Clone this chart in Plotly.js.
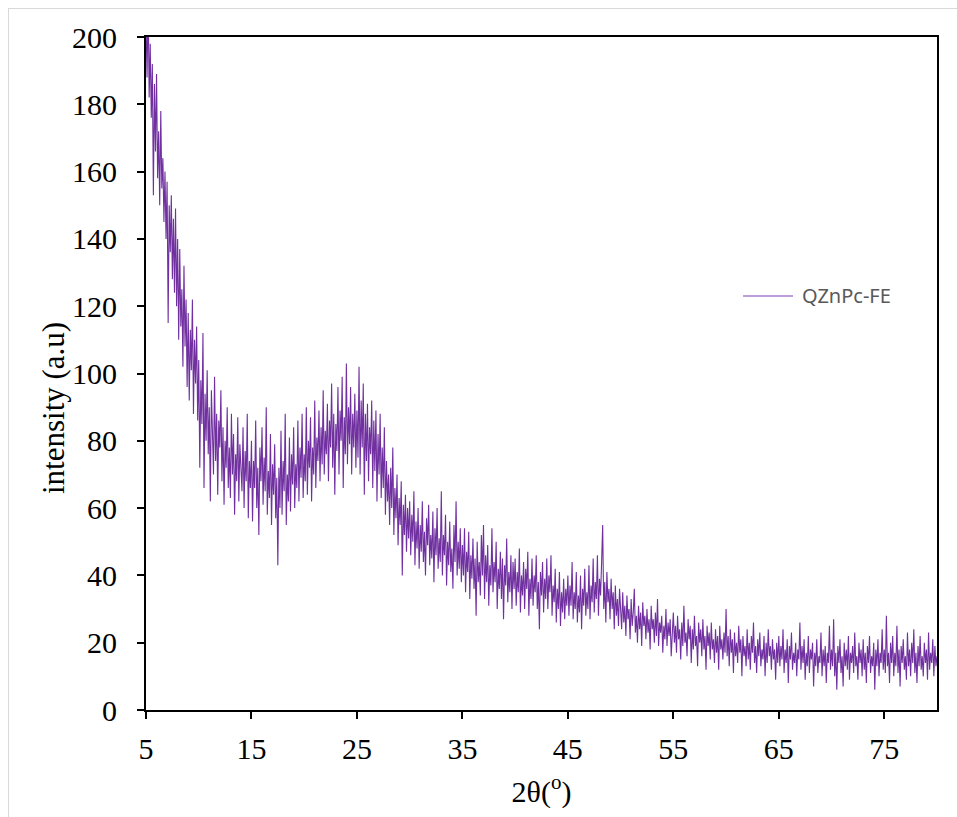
<!DOCTYPE html>
<html>
<head>
<meta charset="utf-8">
<script src="https://cdn.plot.ly/plotly-3.0.1.min.js"></script>
<style>
  html, body { margin: 0; padding: 0; background: #ffffff; }
  #frame { position: absolute; left: 8px; top: 8px; width: 960px; height: 820px; border: 1px solid #d9d9d9; box-sizing: border-box; }
  #chart { position: absolute; left: 0; top: 0; width: 957px; height: 817px; }
</style>
</head>
<body>
<div id="frame"></div>
<div id="chart"></div>
<script>
// Scan grid: 2θ starts at 5° with 0.1° steps (handed to Plotly as x0/dx)
const scanStart = 5;
const scanStep = 0.1;
const seriesName = "QZnPc-FE";
const xTitle = "2θ(<sup>o</sup>)";
const yTitle = "intensity (a.u)";
const xTickVals = [5, 15, 25, 35, 45, 55, 65, 75];
const yTickVals = [0, 20, 40, 60, 80, 100, 120, 140, 160, 180, 200];

// Intensity readings (a.u) per 5° block
const seg05 = [205,188,212,182,198,176,192,153,186,166,189,158,172,150,178,155,164,145,160,140,157,115,150,136,153,128,146,124,149,120,140,110,137,114,125,102,132,108,122,96,118,92,113,101,122,88,110,97,114,86];
const seg10 = [104,72,98,85,112,66,94,80,101,76,90,62,95,83,70,99,74,88,64,86,78,95,68,84,61,80,72,90,66,78,63,88,70,82,58,76,68,87,62,79,71,65,84,60,77,68,88,57,74,66];
const seg15 = [80,56,74,66,86,60,72,52,78,68,84,61,75,65,90,58,71,63,82,55,73,64,79,57,69,43,72,60,83,58,74,65,88,55,70,62,81,59,76,67,84,60,73,66,86,62,78,69,88,63];
const seg20 = [76,68,90,64,80,72,87,62,78,70,92,66,81,74,89,68,84,73,95,70,83,76,91,68,86,78,97,72,88,64,85,77,96,70,89,80,99,66,87,76,103,73,90,79,96,70,88,78,94,72];
const seg25 = [89,75,102,70,92,78,97,64,88,74,91,68,84,76,92,66,86,71,89,62,82,70,88,63,78,66,84,58,74,62,70,55,72,60,78,52,66,57,70,49,63,55,68,40,61,52,64,47,60,51];
const seg30 = [62,46,58,50,65,43,56,48,60,42,55,47,62,44,53,40,57,49,61,43,52,45,59,38,54,46,60,42,51,44,65,40,52,46,58,37,50,43,56,41,48,36,55,44,62,40,50,42,54,38];
const seg35 = [49,40,54,35,47,41,53,33,46,39,51,36,45,28,50,38,44,34,52,40,55,33,46,38,49,31,43,37,54,35,44,38,50,30,42,36,47,33,45,27,43,37,51,32,41,35,46,30,44,36];
const seg40 = [45,31,41,35,48,29,40,34,44,30,42,36,47,28,39,33,45,31,40,35,46,30,38,24,41,34,44,29,39,33,45,30,40,35,46,28,37,32,42,26,36,30,41,25,35,29,39,27,36,31];
const seg45 = [40,28,37,31,44,27,35,30,41,26,34,29,40,24,36,31,42,28,35,30,43,27,37,32,45,29,38,33,46,28,39,34,44,55,30,38,26,41,32,36,27,39,30,35,24,37,28,33,25,36];
const seg50 = [30,24,35,26,31,22,34,27,30,21,33,25,29,36,23,28,20,31,24,29,19,32,25,28,21,30,23,27,18,31,24,27,20,29,22,33,19,26,23,28,17,25,21,30,19,26,22,27,16,24];
const seg55 = [29,20,25,17,28,21,24,15,26,19,31,20,23,16,27,21,25,14,24,18,28,19,22,13,26,20,24,16,27,18,22,12,25,19,23,15,26,18,21,14,24,17,22,12,25,18,21,15,23,17];
const seg60 = [30,16,22,13,24,17,21,11,23,16,20,14,25,17,21,10,22,16,19,13,24,15,20,12,22,17,26,14,19,11,21,16,23,13,18,15,22,10,20,14,24,16,19,12,21,15,18,9,20,14];
const seg65 = [22,13,19,15,24,11,18,14,21,8,19,15,23,12,17,14,20,10,18,15,26,12,19,14,21,9,17,13,22,11,18,15,20,7,17,13,21,11,16,14,23,10,18,13,19,8,17,14,25,12];
const seg70 = [18,13,27,10,17,6,19,14,21,11,16,7,20,13,18,12,22,9,17,14,19,11,23,13,16,9,20,14,18,10,21,12,17,8,19,14,22,11,16,13,20,6,18,13,21,10,17,14,24,12];
const seg75 = [18,11,28,13,17,8,20,14,22,10,17,13,25,11,18,7,19,14,21,12,16,9,23,13,18,10,20,14,24,11,17,8,19,13,22,12,16,10,20,14,18,9,23,12,17,14,21,10,19,13];
const seg80 = [16];

const intensity = [].concat(seg05, seg10, seg15, seg20, seg25, seg30, seg35, seg40,
                            seg45, seg50, seg55, seg60, seg65, seg70, seg75, seg80);

const serif = "Liberation Serif, Times New Roman, serif";
const lineColor = "#7030A0";

const trace = {
  type: "scatter",
  mode: "lines",
  name: seriesName,
  x0: scanStart,
  dx: scanStep,
  y: intensity,
  line: { color: lineColor, width: 1.1 },
  showlegend: false
};

const layout = {
  width: 957,
  height: 817,
  margin: { l: 146, r: 20, t: 37, b: 107 },
  paper_bgcolor: "rgba(0,0,0,0)",
  plot_bgcolor: "rgba(0,0,0,0)",
  showlegend: false,
  shapes: [
    { type: "line", xref: "paper", yref: "paper", x0: 0.7548, x1: 0.818, y0: 0.6152, y1: 0.6152,
      line: { color: "#a67ccc", width: 1.5 } }
  ],
  annotations: [
    { text: seriesName, xref: "paper", yref: "paper", x: 0.8268, y: 0.6152,
      xanchor: "left", yanchor: "middle", showarrow: false,
      font: { family: "Noto Sans, Open Sans, sans-serif", size: 20, color: "#595959" } },
    { text: yTitle, xref: "paper", yref: "paper", x: -0.1176, y: 0.4487,
      xanchor: "center", yanchor: "middle", textangle: -90, showarrow: false,
      font: { family: serif, size: 31, color: "#000" } }
  ],
  xaxis: {
    range: [5, 80],
    tickvals: xTickVals,
    ticktext: xTickVals.map(String),
    ticks: "outside", ticklen: 7, tickwidth: 2, tickcolor: "#000",
    showline: true, linecolor: "#000", linewidth: 2, mirror: true,
    showgrid: false, zeroline: false,
    tickfont: { family: serif, size: 30, color: "#000" },
    ticklabelstandoff: 4,
    title: { text: xTitle, font: { family: serif, size: 30, color: "#000" }, standoff: 17 }
  },
  yaxis: {
    range: [0, 200],
    tickvals: yTickVals,
    ticks: "outside", ticklen: 7, tickwidth: 2, tickcolor: "#000",
    showline: true, linecolor: "#000", linewidth: 2, mirror: true,
    showgrid: false, zeroline: false,
    tickfont: { family: serif, size: 30, color: "#000" },
    ticklabelstandoff: 14
  }
};

Plotly.newPlot("chart", [trace], layout, { displayModeBar: false, staticPlot: true });
</script>
</body>
</html>
